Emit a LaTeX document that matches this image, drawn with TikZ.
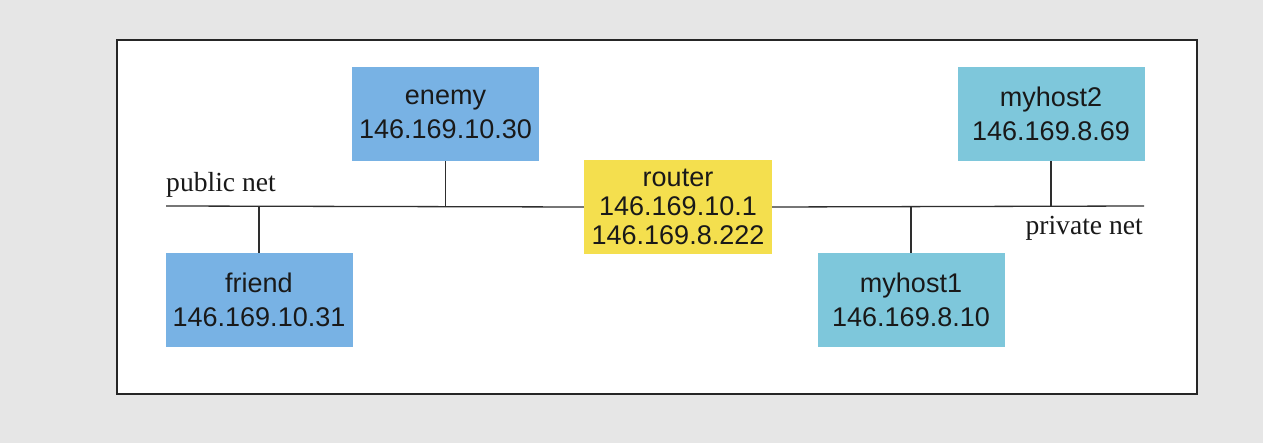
\documentclass[tikz,border=0pt]{standalone}
\usepackage{fontspec}
\setmainfont{Liberation Serif}
\newfontfamily\boxfont{Liberation Sans}
\definecolor{bggray}{HTML}{E6E6E6}
\definecolor{hostblue}{HTML}{78B2E4}
\definecolor{hostcyan}{HTML}{7EC7DB}
\definecolor{routeryellow}{HTML}{F4DF4E}
\definecolor{inkgray}{HTML}{2E2E2E}
\tikzset{
  hostbox/.style={rectangle, inner sep=0pt, minimum width=187pt, minimum height=94pt,
    align=center, text=black!90, font=\boxfont\fontsize{27}{34}\selectfont},
  wire/.style={draw=inkgray, line width=1.3pt},
  netlabel/.style={inner sep=0pt, font=\fontsize{27.6}{30}\selectfont, text=black!90}
}
\begin{document}
\begin{tikzpicture}[x=1pt, y=-1pt]
\useasboundingbox (0,0) rectangle (1263,443);
\fill[bggray] (0,0) rectangle (1263,443);
\draw[fill=white, draw=black!85, line width=1.2pt] (117,40) rectangle (1197,394);

\coordinate (busL) at (166,206);
\coordinate (busR) at (1144,206);

\node[hostbox, fill=hostblue] (enemy) at (445.5,114) {enemy\\146.169.10.30};
\node[hostbox, fill=hostblue] (friend) at (259,300) {friend\\146.169.10.31};
\node[hostbox, fill=routeryellow, minimum width=188pt, font=\boxfont\fontsize{27}{29}\selectfont] (router) at (678,207) {router\\146.169.10.1\\146.169.8.222};
\node[hostbox, fill=hostcyan] (myhost2) at (1051,114) {myhost2\\146.169.8.69};
\node[hostbox, fill=hostcyan] (myhost1) at (911,300) {myhost1\\146.169.8.10};

\draw[wire] (busL) -- (router.west);
\draw[wire] (router.east) -- (busR);
\draw[wire] (enemy.south) -- (enemy.south |- busL);
\draw[wire] (friend.north) -- (friend.north |- busL);
\draw[wire] (myhost2.south) -- (myhost2.south |- busR);
\draw[wire] (myhost1.north) -- (myhost1.north |- busR);

\node[netlabel, anchor=base west] (pubnet) at (166,192) {public net};
\node[netlabel, anchor=base east] (privnet) at (1143,235) {private net};
\end{tikzpicture}
\end{document}
